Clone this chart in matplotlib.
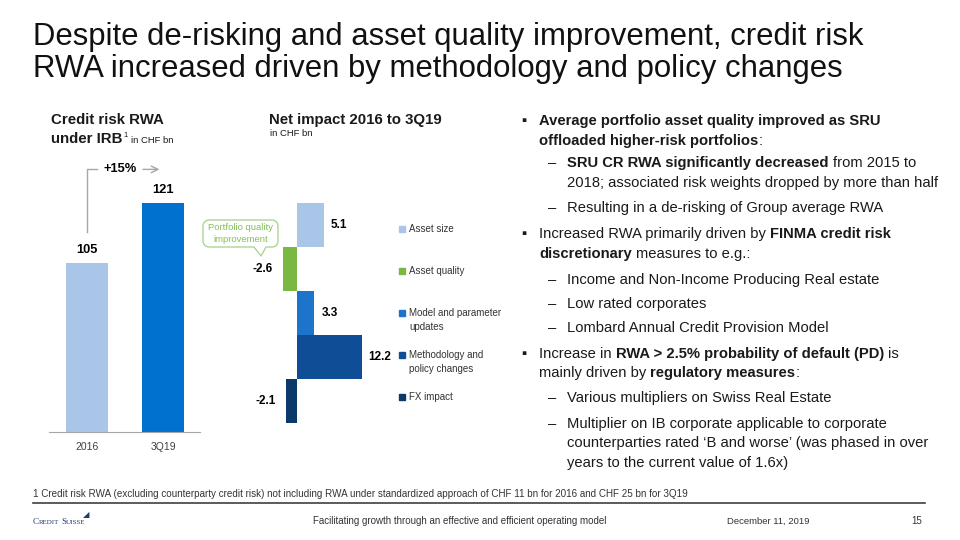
import numpy as np
import matplotlib
matplotlib.use('Agg')
import matplotlib.pyplot as plt
from matplotlib.lines import Line2D
from matplotlib.patches import Polygon

plt.rcParams['font.family'] = ['Liberation Sans', 'DejaVu Sans']

# data
years = ['2016', '3Q19']
rwa = [105, 121]
year_colors = ['#A9C6E9', '#0071CE']

drivers = ['Asset size', 'Asset quality', 'Model and parameter\nupdates',
           'Methodology and\npolicy changes', 'FX impact']
impact = [5.1, -2.6, 3.3, 12.2, -2.1]
driver_colors = ['#A9C6E9', '#78B843', '#1C75CB', '#0F4E96', '#0B3A6A']

W, H = 960, 540
fig = plt.figure(figsize=(9.6, 5.4), dpi=100)
renderer = fig.canvas.get_renderer()


def box(l, t, r, b):
    return [l / W, 1 - b / H, (r - l) / W, (b - t) / H]


def text_w(s, **kw):
    t = fig.text(0, 0, s, **kw)
    w = t.get_window_extent(renderer).width
    t.remove()
    return w


def runs(x, y, parts, size=10.6, color='#1a1a1a', family=None):
    # draw mixed regular / bold pieces on one baseline
    for s, bold in parts:
        kw = dict(fontsize=size, fontweight='bold' if bold else 'normal', color=color)
        if family:
            kw['family'] = family
        core = s.strip(' ')
        lead = len(s) - len(s.lstrip(' '))
        trail = len(s) - len(s.rstrip(' '))
        sw = text_w('x x', **kw) - text_w('xx', **kw)
        x += lead * sw
        t = fig.text(x / W, 1 - y / H, core, va='baseline', ha='left', **kw)
        x += t.get_window_extent(renderer).width + trail * sw
    return x


def bubble(l, t, r, b, rad, tail):
    # rounded box with a small tail on the bottom edge, pixel coords
    pts = []

    def arc(cx, cy, a0, a1):
        for a in np.radians(np.linspace(a0, a1, 8)):
            pts.append((cx + rad * np.cos(a), cy + rad * np.sin(a)))

    arc(l + rad, t + rad, 180, 270)
    arc(r - rad, t + rad, 270, 360)
    arc(r - rad, b - rad, 0, 90)
    x0, x1, tx, ty = tail
    pts += [(x1, b), (tx, ty), (x0, b)]
    arc(l + rad, b - rad, 90, 180)
    return [(px / W, 1 - py / H) for px, py in pts]


# headline
fig.text(33 / W, 1 - 45 / H, 'Despite de-risking and asset quality improvement, credit risk',
         fontsize=22.4, va='baseline', color='#111111')
fig.text(33 / W, 1 - 77 / H, 'RWA increased driven by methodology and policy changes',
         fontsize=22.4, va='baseline', color='#111111')

# left chart
ax1 = fig.add_axes(box(49, 160, 200, 432))
ax1.bar(range(len(rwa)), rwa, width=0.55, color=year_colors)
ax1.set_ylim(60, 132.5)
ax1.set_xlim(-0.5, 1.487)
for s in ['top', 'right', 'left']:
    ax1.spines[s].set_visible(False)
ax1.spines['bottom'].set_color('#A6A6A6')
ax1.set_yticks([])
ax1.set_xticks(range(len(years)))
ax1.set_xticklabels(years, fontsize=7.5, color='#404040')
ax1.tick_params(axis='x', length=0, pad=7)
for i, v in enumerate(rwa):
    ax1.text(i, v + 3.6, f'{v}', ha='center', va='center', fontsize=9.3, fontweight='bold')

growth = round((rwa[1] / rwa[0] - 1) * 100)
top = 130
ax1.plot([0, 0, 0.13], [rwa[0] + 8.3, top, top], color='#A6A6A6', lw=1, clip_on=False)
ax1.text(0.43, top, f'+{growth}%', ha='center', va='center', fontsize=9.3, fontweight='bold')
ax1.annotate('', xy=(0.99, top), xytext=(0.70, top), annotation_clip=False,
             arrowprops=dict(arrowstyle='->', color='#A6A6A6', lw=1, mutation_scale=12))

runs(51, 124, [('Credit risk RWA', True)], size=10.8)
x = runs(51, 143, [('under IRB', True)], size=10.8)
x = runs(x + 1, 137, [('1', False)], size=5.5)
runs(x + 3, 143, [('in CHF bn', False)], size=6.8)

# right chart: net impact
ax2 = fig.add_axes(box(270.5, 203, 376.5, 423))
ax2.barh(range(len(impact)), impact, height=1.0, color=driver_colors)
ax2.set_xlim(-5, 15)
ax2.set_ylim(4.5, -0.5)
ax2.axis('off')
for i, v in enumerate(impact):
    if v >= 0:
        ax2.annotate(f'{v}', xy=(v, i), xytext=(5, 0), textcoords='offset points',
                     ha='left', va='center', fontsize=8.5, fontweight='bold', annotation_clip=False)
    else:
        ax2.annotate(f'{v}', xy=(v, i), xytext=(-7.5, 0), textcoords='offset points',
                     ha='right', va='center', fontsize=8.5, fontweight='bold', annotation_clip=False)

# legend rows sit on their own 42 px grid
for i, (lab, c) in enumerate(zip(drivers, driver_colors)):
    yc = 229 + 42 * i
    fig.add_artist(Line2D([402 / W], [1 - yc / H], marker='s', ms=4, color=c, lw=0))
    fig.text(409 / W, 1 - (yc - 4.5) / H, lab, ha='left', va='top', fontsize=7,
             color='#333333', linespacing=1.4)

green_edge = '#A5D08A'
fig.add_artist(Polygon(bubble(203, 220, 278, 247, 6, (254, 266, 261, 256)), closed=True,
                       fc='white', ec=green_edge, lw=0.9))
fig.text(240.5 / W, 1 - 233.5 / H, 'Portfolio quality\nimprovement', ha='center', va='center',
         fontsize=6.8, color='#82C05A', linespacing=1.3)

runs(269, 124, [('Net impact 2016 to 3Q19', True)], size=10.8)
runs(270, 136, [('in CHF bn', False)], size=6.8)

# commentary
lines = [
    ('b', 120, [('Average portfolio asset quality improved as SRU', True)]),
    ('c', 140, [('offloaded higher-risk portfolios', True), (':', False)]),
    ('d', 162, [('SRU CR RWA significantly decreased', True), (' from 2015 to', False)]),
    ('dc', 182, [('2018; associated risk weights dropped by more than half', False)]),
    ('d', 207, [('Resulting in a de-risking of Group average RWA', False)]),
    ('b', 233, [('Increased RWA primarily driven by ', False), ('FINMA credit risk', True)]),
    ('c', 253, [('discretionary', True), (' measures to e.g.:', False)]),
    ('d', 279, [('Income and Non-Income Producing Real estate', False)]),
    ('d', 303, [('Low rated corporates', False)]),
    ('d', 327, [('Lombard Annual Credit Provision Model', False)]),
    ('b', 353, [('Increase in ', False), ('RWA > 2.5% probability of default (PD)', True),
                (' is', False)]),
    ('c', 372, [('mainly driven by ', False), ('regulatory measures', True), (':', False)]),
    ('d', 397, [('Various multipliers on Swiss Real Estate', False)]),
    ('d', 423, [('Multiplier on IB corporate applicable to corporate', False)]),
    ('dc', 442, [('counterparties rated \u2018B and worse\u2019 (was phased in over', False)]),
    ('dc', 462, [('years to the current value of 1.6x)', False)]),
]
for kind, yc, parts in lines:
    yb = yc + 5
    if kind == 'b':
        runs(521, yb, [('\u25aa', False)])
        runs(539, yb, parts)
    elif kind == 'c':
        runs(539, yb, parts)
    elif kind == 'd':
        runs(548, yb, [('\u2013', False)])
        runs(567, yb, parts)
    else:
        runs(567, yb, parts)

# footnote and footer
fig.text(33 / W, 1 - 494 / H,
         '1 Credit risk RWA (excluding counterparty credit risk) not including RWA under '
         'standardized approach of CHF 11 bn for 2016 and CHF 25 bn for 3Q19',
         fontsize=7.1, va='center', color='#333333')
fig.add_artist(Line2D([33 / W, 925 / W], [1 - 503 / H] * 2, color='#404040', lw=1.2))
fig.text(313 / W, 1 - 521 / H, 'Facilitating growth through an effective and efficient operating model',
         fontsize=7, va='center', color='#333333')
fig.text(727 / W, 1 - 521 / H, 'December 11, 2019', fontsize=6.8, va='center', color='#333333')
fig.text(922 / W, 1 - 521 / H, '15', fontsize=7, va='center', ha='right', color='#333333')

serif = ['Liberation Serif', 'DejaVu Serif']
x = runs(33, 524, [('C', False)], size=6.5, color='#1D3C6E', family=serif)
x = runs(x, 524, [('REDIT ', False)], size=5, color='#1D3C6E', family=serif)
x = runs(x, 524, [('S', False)], size=6.5, color='#1D3C6E', family=serif)
x = runs(x, 524, [('UISSE', False)], size=5, color='#1D3C6E', family=serif)
fig.text((x - 3) / W, 1 - 516 / H, '\u25e2', fontsize=6, color='#1D3C6E', va='center')

fig.savefig('out.png', dpi=100)
